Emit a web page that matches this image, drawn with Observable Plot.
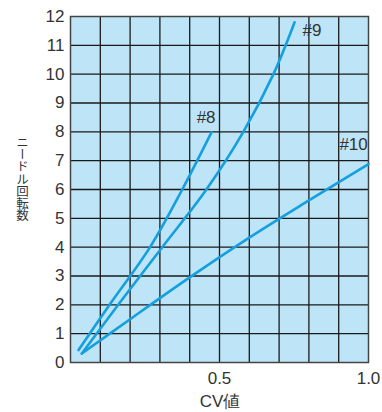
<!DOCTYPE html>
<html><head><meta charset="utf-8">
<script src="https://cdn.jsdelivr.net/npm/d3@7"></script>
<script src="https://cdn.jsdelivr.net/npm/@observablehq/plot@0.6"></script>
<style>
body{margin:0;background:#fff;}
svg{display:block;}
#wrap{position:relative;width:382px;height:412px;}
#ytitle{position:absolute;left:15px;top:136px;writing-mode:vertical-rl;text-orientation:upright;
  font-family:'Noto Sans CJK JP',sans-serif;font-size:12.5px;line-height:14px;color:#333;letter-spacing:-0.3px;}
</style>
</head><body>
<div id="wrap"><div id="chart"></div><div id="ytitle"></div></div>
<script>
const n8  = [0.43, 2, 4, 6, 7.98];
const cv8 = [0.027, 0.131, 0.267, 0.375, 0.473];
const n9  = [0.31, 2, 4, 6, 8, 10, 11.8];
const cv9 = [0.038, 0.160, 0.308, 0.456, 0.580, 0.681, 0.752];
const cv10 = [0.038, 0.2, 0.4, 0.6, 0.8, 1.0];
const n10  = [0.31, 1.5, 2.95, 4.33, 5.62, 6.88];
const seriesNames = ["#8", "#9", "#10"];
const labelPos = [{cv: 0.455, n: 8.5}, {cv: 0.81, n: 11.5}, {cv: 0.95, n: 7.55}];
const xTicks = [0.5, 1.0];
const yTicks = [0,1,2,3,4,5,6,7,8,9,10,11,12];
const xGrid = [0.1,0.2,0.3,0.4,0.5,0.6,0.7,0.8,0.9];
const yGrid = [1,2,3,4,5,6,7,8,9,10,11];
const xTitle = "CV値";
const yTitle = "ニードル回転数";

const rows = [];
[[cv8,n8],[cv9,n9],[cv10,n10]].forEach(([xs,ys],i)=>xs.forEach((x,j)=>rows.push({s:seriesNames[i],cv:x,n:ys[j]})));
const labels = seriesNames.map((s,i)=>({s, ...labelPos[i]}));

const blue = "#14a0df";
const font = "'Liberation Sans', Arial, sans-serif";
const svg = Plot.plot({
  width: 382, height: 412,
  marginLeft: 70, marginRight: 14, marginTop: 16, marginBottom: 50,
  style: {fontFamily: font, fontSize: "17px", color: "#333", background: "#fff"},
  x: {domain: [0, 1], ticks: xTicks, tickFormat: d3.format(".1f"), tickSize: 0, tickPadding: 9, label: null},
  y: {domain: [0, 12], ticks: yTicks, tickSize: 0, tickPadding: 6, label: null},
  marks: [
    Plot.frame({fill: "#bee4f8", stroke: null}),
    Plot.ruleX(xGrid, {stroke: "#1a1a1a", strokeWidth: 1.3}),
    Plot.ruleY(yGrid, {stroke: "#1a1a1a", strokeWidth: 1.3}),
    Plot.frame({stroke: "#444", strokeWidth: 1.5}),
    Plot.line(rows, {x: "cv", y: "n", z: "s", stroke: blue, strokeWidth: 2.6, curve: "catmull-rom"}),
    Plot.text(labels, {x: "cv", y: "n", text: "s", fill: "#333", fontSize: 17})
  ]
});
document.getElementById("chart").appendChild(svg);
d3.select(svg).append("text").attr("x", 220).attr("y", 407).attr("text-anchor","middle")
  .attr("fill","#333").style("font-size","17px").text(xTitle);
document.getElementById("ytitle").textContent = yTitle;
</script>
</body></html>
